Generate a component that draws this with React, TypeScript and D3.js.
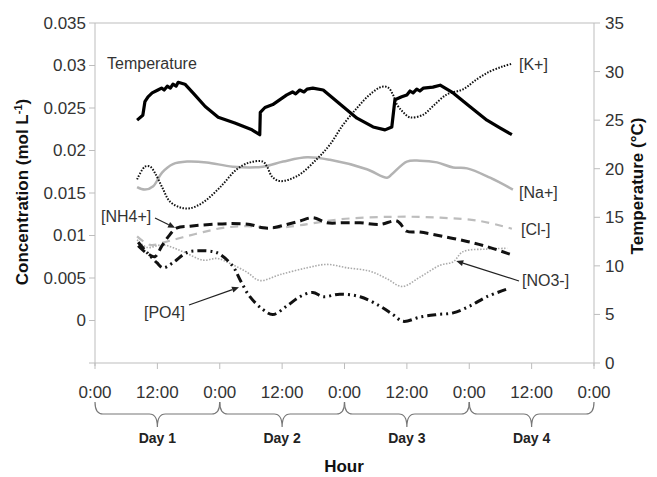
import React from "react";
import * as d3 from "d3";

// ---- data (hours from Day 1 0:00) ----
const tempHours = [8.1, 9.2, 9.6, 10.2, 11.0, 12.1, 12.8, 13.3, 13.9, 14.5, 15.0, 15.6, 16.0, 17.3, 19.2, 21.2, 23.7, 26.9, 30.2, 31.7, 31.8, 32.7, 34.2, 36.9, 38.0, 38.6, 39.4, 40.2, 40.8, 41.9, 43.9, 46.6, 50.4, 53.5, 55.8, 57.1, 57.7, 59.0, 60.0, 60.6, 61.2, 61.9, 62.5, 63.2, 65.0, 66.4, 68.9, 72.1, 75.4, 77.9, 80.2];
const tempValues = [25.0, 25.5, 26.9, 27.4, 27.8, 28.1, 28.3, 28.1, 28.5, 28.3, 28.7, 28.5, 28.9, 28.7, 27.6, 26.4, 25.3, 24.7, 24.0, 23.5, 25.8, 26.3, 26.6, 27.6, 27.9, 27.7, 28.1, 27.9, 28.2, 28.3, 28.1, 26.9, 25.2, 24.3, 24.0, 24.3, 27.1, 27.4, 27.6, 28.0, 27.8, 28.2, 28.0, 28.3, 28.4, 28.6, 27.8, 26.4, 25.0, 24.2, 23.5];

const kHours = [8.1, 9.6, 10.6, 11.5, 12.9, 14.4, 16.4, 18.3, 20.8, 24.1, 27.3, 29.8, 32.3, 33.1, 34.1, 35.6, 38.9, 42.7, 45.2, 47.7, 50.4, 52.9, 55.2, 56.4, 57.3, 58.1, 59.3, 60.6, 63.1, 65.0, 67.7, 70.8, 73.5, 76.0, 78.5, 80.2];
const kValues = [0.0166, 0.0181, 0.0181, 0.0174, 0.0157, 0.0140, 0.0133, 0.0132, 0.0139, 0.0157, 0.0178, 0.0186, 0.0187, 0.0181, 0.0169, 0.0164, 0.0170, 0.0190, 0.0207, 0.0230, 0.0250, 0.0266, 0.0275, 0.0274, 0.0266, 0.0254, 0.0245, 0.0239, 0.0242, 0.0252, 0.0266, 0.0272, 0.0284, 0.0293, 0.0299, 0.0302];

const naHours = [8.1, 9.6, 11.2, 12.9, 15.0, 17.7, 21.5, 26.5, 32.3, 36.2, 40.8, 45.2, 52.3, 56.2, 57.1, 60.0, 62.5, 65.8, 68.9, 71.6, 76.0, 80.4];
const naValues = [0.0157, 0.0154, 0.0158, 0.0174, 0.0184, 0.0187, 0.0186, 0.0181, 0.0181, 0.0187, 0.0192, 0.0189, 0.0178, 0.0168, 0.0172, 0.0187, 0.0188, 0.0186, 0.0180, 0.0179, 0.0168, 0.0154];

const clHours = [8.1, 10.6, 13.9, 16.9, 20.8, 24.6, 29.2, 34.6, 39.4, 47.1, 57.3, 66.4, 74.1, 80.2];
const clValues = [0.0099, 0.0089, 0.0093, 0.0098, 0.0104, 0.0109, 0.0111, 0.0109, 0.0112, 0.0119, 0.0122, 0.0121, 0.0117, 0.0108];

const nh4Hours = [8.3, 10.0, 11.5, 12.9, 14.4, 15.8, 18.3, 22.1, 26.0, 29.8, 32.3, 34.2, 36.9, 39.4, 41.9, 44.6, 47.7, 51.0, 54.8, 58.1, 60.0, 62.5, 66.9, 71.6, 75.4, 79.8];
const nh4Values = [0.0088, 0.0079, 0.0075, 0.0088, 0.0101, 0.0109, 0.0111, 0.0113, 0.0114, 0.0113, 0.0109, 0.0109, 0.0113, 0.0117, 0.0121, 0.0115, 0.0115, 0.0115, 0.0113, 0.0117, 0.0105, 0.0104, 0.0099, 0.0093, 0.0087, 0.0078];

const no3Hours = [8.1, 10.0, 13.1, 16.9, 20.8, 23.5, 26.0, 29.2, 31.7, 35.6, 40.8, 44.6, 48.5, 52.9, 56.2, 59.1, 62.5, 66.4, 68.9, 70.8, 75.4, 79.3];
const no3Values = [0.0095, 0.0086, 0.0089, 0.0081, 0.0071, 0.0073, 0.0067, 0.0057, 0.0047, 0.0054, 0.0062, 0.0066, 0.0062, 0.0058, 0.0049, 0.0040, 0.0051, 0.0065, 0.0069, 0.0081, 0.0084, 0.0085];

const po4Hours = [8.3, 10.0, 11.9, 13.1, 15.0, 17.7, 20.2, 22.7, 24.0, 26.5, 27.9, 29.8, 32.3, 34.2, 36.9, 39.4, 41.9, 43.9, 47.1, 51.0, 54.8, 57.3, 59.3, 62.5, 65.8, 68.9, 72.1, 75.4, 79.3];
const po4Values = [0.0092, 0.0080, 0.0068, 0.0062, 0.0068, 0.0080, 0.0082, 0.0081, 0.0078, 0.0064, 0.0048, 0.0028, 0.0013, 0.0007, 0.0017, 0.0028, 0.0033, 0.0028, 0.0031, 0.0028, 0.0017, 0.0007, -0.0001, 0.0004, 0.0007, 0.0009, 0.0017, 0.0028, 0.0037];

const leftTicks = [0, 0.005, 0.01, 0.015, 0.02, 0.025, 0.03, 0.035];
const rightTicks = [0, 5, 10, 15, 20, 25, 30, 35];
const xTickHours = [0, 12, 24, 36, 48, 60, 72, 84, 96];
const xTickLabels = ["0:00", "12:00", "0:00", "12:00", "0:00", "12:00", "0:00", "12:00", "0:00"];
const dayLabels = ["Day 1", "Day 2", "Day 3", "Day 4"];

const W = 657, H = 477;
const FONT = "Arial, 'Liberation Sans', Helvetica, sans-serif";

export default function App() {
  const x = d3.scaleLinear().domain([0, 96]).range([95, 594]);
  const yL = d3.scaleLinear().domain([-0.005, 0.035]).range([363, 23]);
  const yR = d3.scaleLinear().domain([0, 35]).range([363, 23]);

  const smoothL = (hs: number[], vs: number[]) =>
    d3.line<number>().x((_, i) => x(hs[i])).y((v) => yL(v)).curve(d3.curveCatmullRom.alpha(0.5))(vs) || "";
  const tempPath =
    d3.line<number>().x((_, i) => x(tempHours[i])).y((v) => yR(v)).curve(d3.curveLinear)(tempValues) || "";

  const axisCol = "#bdbdbd";
  const txtCol = "#333";

  const brace = (d: number) => {
    const x0 = x(d * 24), x1 = x(d * 24 + 24), xm = (x0 + x1) / 2;
    const yT = 402, yM = 414, yB = 427;
    return `M${x0},${yT} Q${x0},${yM} ${x0 + 8},${yM} L${xm - 8},${yM} Q${xm},${yM} ${xm},${yB} Q${xm},${yM} ${xm + 8},${yM} L${x1 - 8},${yM} Q${x1},${yM} ${x1},${yT}`;
  };

  const arrow = (x1: number, y1: number, x2: number, y2: number) => {
    const ang = Math.atan2(y2 - y1, x2 - x1);
    const L = 7, w = 3;
    const bx = x2 - L * Math.cos(ang), by = y2 - L * Math.sin(ang);
    const px = -Math.sin(ang) * w, py = Math.cos(ang) * w;
    return (
      <g>
        <line x1={x1} y1={y1} x2={bx} y2={by} stroke="#222" strokeWidth={1.2} />
        <path d={`M${x2},${y2} L${bx + px},${by + py} L${bx - px},${by - py} Z`} fill="#222" />
      </g>
    );
  };

  return (
    <svg width={W} height={H} style={{ position: "absolute", left: 0, top: 0, background: "#fff" }} fontFamily={FONT}>
      {/* frame */}
      <line x1={95} y1={23} x2={594} y2={23} stroke={axisCol} strokeWidth={1} />
      <line x1={95} y1={23} x2={95} y2={366} stroke={axisCol} strokeWidth={1} />
      <line x1={594} y1={23} x2={594} y2={366} stroke={axisCol} strokeWidth={1} />
      <line x1={95} y1={363} x2={594} y2={363} stroke={axisCol} strokeWidth={1} />

      {/* left ticks */}
      {[-0.005, ...leftTicks].map((t) => (
        <line key={"lt" + t} x1={89} x2={95} y1={yL(t)} y2={yL(t)} stroke={axisCol} />
      ))}
      {leftTicks.map((t) => (
        <text key={"ll" + t} x={86} y={yL(t)} dy="0.35em" textAnchor="end" fontSize={17} fill={txtCol}>
          {String(+t.toFixed(3))}
        </text>
      ))}
      {/* right ticks */}
      {rightTicks.map((t) => (
        <g key={"r" + t}>
          <line x1={594} x2={600} y1={yR(t)} y2={yR(t)} stroke={axisCol} />
          <text x={605} y={yR(t)} dy="0.35em" fontSize={17} fill={txtCol}>{t}</text>
        </g>
      ))}
      {/* x ticks */}
      {xTickHours.map((h, i) => (
        <g key={"x" + i}>
          <line x1={x(h)} x2={x(h)} y1={363} y2={369} stroke={axisCol} />
          <text x={x(h)} y={398} textAnchor="middle" fontSize={17} fill={txtCol}>{xTickLabels[i]}</text>
        </g>
      ))}
      {/* braces & days */}
      {dayLabels.map((d, i) => (
        <g key={d}>
          <path d={brace(i)} fill="none" stroke="#777" strokeWidth={1.2} />
          <text x={x(i * 24 + 12)} y={443} textAnchor="middle" fontSize={14} fontWeight="bold" fill="#222">{d}</text>
        </g>
      ))}

      {/* axis titles */}
      <text x={344} y={472} textAnchor="middle" fontSize={17} fontWeight="bold" fill="#111">Hour</text>
      <text transform="translate(28,192) rotate(-90)" textAnchor="middle" fontSize={17} fontWeight="bold" fill="#111">
        Concentration (mol L<tspan dy={-6} fontSize={11}>-1</tspan><tspan dy={6}>)</tspan>
      </text>
      <text transform="translate(643,186) rotate(-90)" textAnchor="middle" fontSize={17} fontWeight="bold" fill="#111">
        Temperature (°C)
      </text>

      {/* series */}
      <path d={smoothL(naHours, naValues)} fill="none" stroke="#b3b3b3" strokeWidth={2.5} />
      <path d={smoothL(clHours, clValues)} fill="none" stroke="#bdbdbd" strokeWidth={2.2} strokeDasharray="8,6" />
      <path d={smoothL(no3Hours, no3Values)} fill="none" stroke="#aaaaaa" strokeWidth={1.6} strokeDasharray="1.5,1.5" />
      <path d={smoothL(kHours, kValues)} fill="none" stroke="#111" strokeWidth={2} strokeDasharray="1.5,1.5" />
      <path d={smoothL(nh4Hours, nh4Values)} fill="none" stroke="#111" strokeWidth={3} strokeDasharray="9,5" />
      <path d={smoothL(po4Hours, po4Values)} fill="none" stroke="#111" strokeWidth={3} strokeDasharray="9,4,2,4,2,4" />
      <path d={tempPath} fill="none" stroke="#000" strokeWidth={3.2} strokeLinejoin="round" />

      {/* labels */}
      <text x={107} y={69} fontSize={16} fill={txtCol}>Temperature</text>
      <text x={519} y={70} fontSize={16} fill={txtCol}>[K+]</text>
      <text x={519} y={198} fontSize={16} fill={txtCol}>[Na+]</text>
      <text x={521} y={235} fontSize={16} fill={txtCol}>[Cl-]</text>
      <text x={522} y={286} fontSize={16} fill={txtCol}>[NO3-]</text>
      <text x={101} y={222} fontSize={16} fill={txtCol}>[NH4+]</text>
      <text x={144} y={318} fontSize={16} fill={txtCol}>[PO4]</text>
      {arrow(155, 218, x(15.4), yL(0.0109))}
      {arrow(189, 305, x(27.7), yL(0.0039))}
      {arrow(519, 281, x(69.5), yL(0.0070))}
    </svg>
  );
}
